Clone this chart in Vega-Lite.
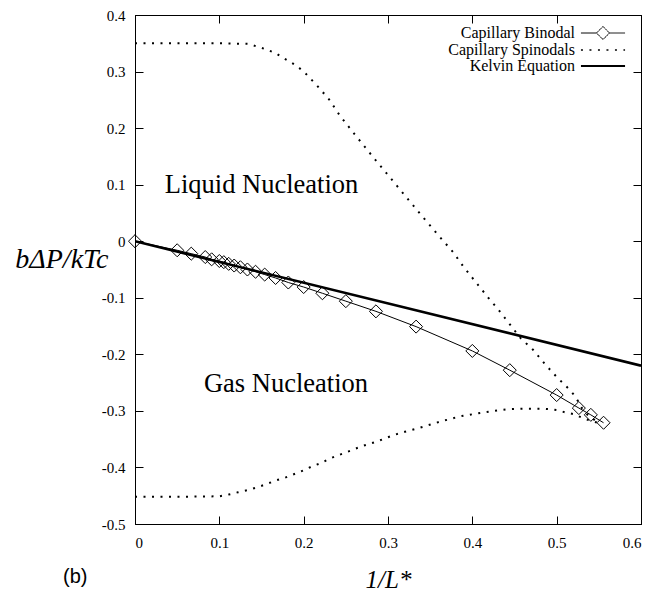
{
  "$schema": "https://vega.github.io/schema/vega-lite/v6.json",
  "width": 506,
  "height": 509,
  "autosize": {"type": "none"},
  "padding": {"left": 135, "top": 15, "right": 26, "bottom": 70},
  "background": "white",
  "title": {"text": "(b)", "orient": "bottom", "anchor": "start", "frame": "group", "font": "Liberation Sans", "fontSize": 20, "fontWeight": "normal", "color": "black", "dx": -72, "offset": -25},
  "config": {
    "view": {"stroke": "black", "strokeWidth": 1}
  },
  "datasets": {
    "curves": [
      {"series": "Capillary Binodal", "branch": "b", "x": 0, "y": 0},
      {"series": "Capillary Binodal", "branch": "b", "x": 0.05, "y": -0.016},
      {"series": "Capillary Binodal", "branch": "b", "x": 0.0667, "y": -0.022},
      {"series": "Capillary Binodal", "branch": "b", "x": 0.0833, "y": -0.028},
      {"series": "Capillary Binodal", "branch": "b", "x": 0.0909, "y": -0.032},
      {"series": "Capillary Binodal", "branch": "b", "x": 0.1, "y": -0.035},
      {"series": "Capillary Binodal", "branch": "b", "x": 0.1053, "y": -0.037},
      {"series": "Capillary Binodal", "branch": "b", "x": 0.1111, "y": -0.04},
      {"series": "Capillary Binodal", "branch": "b", "x": 0.1176, "y": -0.043},
      {"series": "Capillary Binodal", "branch": "b", "x": 0.125, "y": -0.046},
      {"series": "Capillary Binodal", "branch": "b", "x": 0.1333, "y": -0.05},
      {"series": "Capillary Binodal", "branch": "b", "x": 0.1429, "y": -0.054},
      {"series": "Capillary Binodal", "branch": "b", "x": 0.1538, "y": -0.059},
      {"series": "Capillary Binodal", "branch": "b", "x": 0.1667, "y": -0.065},
      {"series": "Capillary Binodal", "branch": "b", "x": 0.1818, "y": -0.073},
      {"series": "Capillary Binodal", "branch": "b", "x": 0.2, "y": -0.081},
      {"series": "Capillary Binodal", "branch": "b", "x": 0.2222, "y": -0.092},
      {"series": "Capillary Binodal", "branch": "b", "x": 0.25, "y": -0.106},
      {"series": "Capillary Binodal", "branch": "b", "x": 0.2857, "y": -0.124},
      {"series": "Capillary Binodal", "branch": "b", "x": 0.3333, "y": -0.151},
      {"series": "Capillary Binodal", "branch": "b", "x": 0.4, "y": -0.194},
      {"series": "Capillary Binodal", "branch": "b", "x": 0.4444, "y": -0.228},
      {"series": "Capillary Binodal", "branch": "b", "x": 0.5, "y": -0.272},
      {"series": "Capillary Binodal", "branch": "b", "x": 0.5263, "y": -0.295},
      {"series": "Capillary Binodal", "branch": "b", "x": 0.5405, "y": -0.307},
      {"series": "Capillary Binodal", "branch": "b", "x": 0.5556, "y": -0.321},
      {"series": "Kelvin Equation", "branch": "k", "x": 0, "y": 0},
      {"series": "Kelvin Equation", "branch": "k", "x": 0.6, "y": -0.22},
      {"series": "Capillary Spinodals", "branch": "up", "x": 0, "y": 0.35},
      {"series": "Capillary Spinodals", "branch": "up", "x": 0.05, "y": 0.35},
      {"series": "Capillary Spinodals", "branch": "up", "x": 0.1, "y": 0.35},
      {"series": "Capillary Spinodals", "branch": "up", "x": 0.134, "y": 0.349},
      {"series": "Capillary Spinodals", "branch": "up", "x": 0.154, "y": 0.34},
      {"series": "Capillary Spinodals", "branch": "up", "x": 0.166, "y": 0.333},
      {"series": "Capillary Spinodals", "branch": "up", "x": 0.176, "y": 0.324},
      {"series": "Capillary Spinodals", "branch": "up", "x": 0.184, "y": 0.317},
      {"series": "Capillary Spinodals", "branch": "up", "x": 0.192, "y": 0.31},
      {"series": "Capillary Spinodals", "branch": "up", "x": 0.202, "y": 0.297},
      {"series": "Capillary Spinodals", "branch": "up", "x": 0.216, "y": 0.275},
      {"series": "Capillary Spinodals", "branch": "up", "x": 0.23, "y": 0.251},
      {"series": "Capillary Spinodals", "branch": "up", "x": 0.243, "y": 0.222},
      {"series": "Capillary Spinodals", "branch": "up", "x": 0.26, "y": 0.19},
      {"series": "Capillary Spinodals", "branch": "up", "x": 0.28, "y": 0.153},
      {"series": "Capillary Spinodals", "branch": "up", "x": 0.3, "y": 0.117},
      {"series": "Capillary Spinodals", "branch": "up", "x": 0.32, "y": 0.081},
      {"series": "Capillary Spinodals", "branch": "up", "x": 0.34, "y": 0.045},
      {"series": "Capillary Spinodals", "branch": "up", "x": 0.36, "y": 0.01},
      {"series": "Capillary Spinodals", "branch": "up", "x": 0.377, "y": -0.019},
      {"series": "Capillary Spinodals", "branch": "up", "x": 0.389, "y": -0.044},
      {"series": "Capillary Spinodals", "branch": "up", "x": 0.406, "y": -0.076},
      {"series": "Capillary Spinodals", "branch": "up", "x": 0.419, "y": -0.1},
      {"series": "Capillary Spinodals", "branch": "up", "x": 0.432, "y": -0.123},
      {"series": "Capillary Spinodals", "branch": "up", "x": 0.445, "y": -0.148},
      {"series": "Capillary Spinodals", "branch": "up", "x": 0.457, "y": -0.171},
      {"series": "Capillary Spinodals", "branch": "up", "x": 0.472, "y": -0.192},
      {"series": "Capillary Spinodals", "branch": "up", "x": 0.486, "y": -0.217},
      {"series": "Capillary Spinodals", "branch": "up", "x": 0.5, "y": -0.24},
      {"series": "Capillary Spinodals", "branch": "up", "x": 0.515, "y": -0.262},
      {"series": "Capillary Spinodals", "branch": "up", "x": 0.522, "y": -0.274},
      {"series": "Capillary Spinodals", "branch": "up", "x": 0.53, "y": -0.295},
      {"series": "Capillary Spinodals", "branch": "up", "x": 0.536, "y": -0.306},
      {"series": "Capillary Spinodals", "branch": "up", "x": 0.549, "y": -0.321},
      {"series": "Capillary Spinodals", "branch": "lo", "x": 0, "y": -0.452},
      {"series": "Capillary Spinodals", "branch": "lo", "x": 0.05, "y": -0.452},
      {"series": "Capillary Spinodals", "branch": "lo", "x": 0.1, "y": -0.451},
      {"series": "Capillary Spinodals", "branch": "lo", "x": 0.111, "y": -0.448},
      {"series": "Capillary Spinodals", "branch": "lo", "x": 0.122, "y": -0.444},
      {"series": "Capillary Spinodals", "branch": "lo", "x": 0.134, "y": -0.44},
      {"series": "Capillary Spinodals", "branch": "lo", "x": 0.145, "y": -0.435},
      {"series": "Capillary Spinodals", "branch": "lo", "x": 0.155, "y": -0.43},
      {"series": "Capillary Spinodals", "branch": "lo", "x": 0.167, "y": -0.423},
      {"series": "Capillary Spinodals", "branch": "lo", "x": 0.178, "y": -0.418},
      {"series": "Capillary Spinodals", "branch": "lo", "x": 0.19, "y": -0.411},
      {"series": "Capillary Spinodals", "branch": "lo", "x": 0.2, "y": -0.405},
      {"series": "Capillary Spinodals", "branch": "lo", "x": 0.21, "y": -0.398},
      {"series": "Capillary Spinodals", "branch": "lo", "x": 0.221, "y": -0.392},
      {"series": "Capillary Spinodals", "branch": "lo", "x": 0.23, "y": -0.385},
      {"series": "Capillary Spinodals", "branch": "lo", "x": 0.24, "y": -0.379},
      {"series": "Capillary Spinodals", "branch": "lo", "x": 0.251, "y": -0.373},
      {"series": "Capillary Spinodals", "branch": "lo", "x": 0.261, "y": -0.367},
      {"series": "Capillary Spinodals", "branch": "lo", "x": 0.27, "y": -0.362},
      {"series": "Capillary Spinodals", "branch": "lo", "x": 0.285, "y": -0.355},
      {"series": "Capillary Spinodals", "branch": "lo", "x": 0.296, "y": -0.349},
      {"series": "Capillary Spinodals", "branch": "lo", "x": 0.306, "y": -0.343},
      {"series": "Capillary Spinodals", "branch": "lo", "x": 0.32, "y": -0.337},
      {"series": "Capillary Spinodals", "branch": "lo", "x": 0.335, "y": -0.331},
      {"series": "Capillary Spinodals", "branch": "lo", "x": 0.344, "y": -0.327},
      {"series": "Capillary Spinodals", "branch": "lo", "x": 0.364, "y": -0.318},
      {"series": "Capillary Spinodals", "branch": "lo", "x": 0.375, "y": -0.314},
      {"series": "Capillary Spinodals", "branch": "lo", "x": 0.384, "y": -0.31},
      {"series": "Capillary Spinodals", "branch": "lo", "x": 0.4, "y": -0.306},
      {"series": "Capillary Spinodals", "branch": "lo", "x": 0.412, "y": -0.303},
      {"series": "Capillary Spinodals", "branch": "lo", "x": 0.431, "y": -0.299},
      {"series": "Capillary Spinodals", "branch": "lo", "x": 0.442, "y": -0.297},
      {"series": "Capillary Spinodals", "branch": "lo", "x": 0.461, "y": -0.296},
      {"series": "Capillary Spinodals", "branch": "lo", "x": 0.481, "y": -0.296},
      {"series": "Capillary Spinodals", "branch": "lo", "x": 0.491, "y": -0.297},
      {"series": "Capillary Spinodals", "branch": "lo", "x": 0.502, "y": -0.299},
      {"series": "Capillary Spinodals", "branch": "lo", "x": 0.511, "y": -0.303},
      {"series": "Capillary Spinodals", "branch": "lo", "x": 0.521, "y": -0.306},
      {"series": "Capillary Spinodals", "branch": "lo", "x": 0.53, "y": -0.312},
      {"series": "Capillary Spinodals", "branch": "lo", "x": 0.541, "y": -0.318},
      {"series": "Capillary Spinodals", "branch": "lo", "x": 0.549, "y": -0.321}
    ],
    "notes": [
      {"label": "Liquid Nucleation", "x": 0.15, "y": 0.1},
      {"label": "Gas Nucleation", "x": 0.179, "y": -0.253}
    ]
  },
  "layer": [
    {
      "data": {"name": "curves"},
      "transform": [{"filter": "datum.series == 'Capillary Binodal'"}],
      "mark": {"type": "line", "color": "black", "strokeWidth": 1, "clip": true},
      "encoding": {
        "x": {"field": "x", "type": "quantitative", "scale": {"domain": [0, 0.6], "nice": false, "zero": false},
          "axis": {"orient": "bottom", "values": [0, 0.1, 0.2, 0.3, 0.4, 0.5, 0.6], "grid": false, "domainColor": "black", "tickColor": "black", "tickSize": -8, "labelColor": "black", "labelFont": "Liberation Serif", "labelFontSize": 15, "labelPadding": 19, "labelExpr": "replace(format(datum.value, '~g'), '−', '-')", "title": "1/L*", "titleColor": "black", "titleFont": "Liberation Serif", "titleFontSize": 25, "titleFontStyle": "italic", "titleFontWeight": "normal", "titleX": 253, "titleY": 63, "titleBaseline": "alphabetic", "titleAlign": "center"}},
        "y": {"field": "y", "type": "quantitative", "scale": {"domain": [-0.5, 0.4], "nice": false, "zero": false},
          "axis": {"orient": "left", "values": [-0.5, -0.4, -0.3, -0.2, -0.1, 0, 0.1, 0.2, 0.3, 0.4], "grid": false, "domainColor": "black", "tickColor": "black", "tickSize": -8, "labelColor": "black", "labelFont": "Liberation Serif", "labelFontSize": 15, "labelPadding": 18, "labelExpr": "replace(format(datum.value, '~g'), '−', '-')", "title": "bΔP/kTc", "titleColor": "black", "titleFont": "Liberation Serif", "titleFontSize": 28, "titleFontStyle": "italic", "titleFontWeight": "normal", "titleAngle": 0, "titleAlign": "right", "titleBaseline": "alphabetic", "titleX": -27, "titleY": 252}}
      }
    },
    {
      "data": {"name": "curves"},
      "transform": [{"filter": "datum.series == 'Capillary Spinodals'"}],
      "mark": {"type": "line", "color": "black", "strokeWidth": 2, "strokeDash": [2, 6.5], "clip": true},
      "encoding": {
        "x": {"field": "x", "type": "quantitative", "axis": null},
        "y": {"field": "y", "type": "quantitative", "axis": null},
        "detail": {"field": "branch"}
      }
    },
    {
      "data": {"name": "curves"},
      "transform": [{"filter": "datum.series == 'Kelvin Equation'"}],
      "mark": {"type": "line", "color": "black", "strokeWidth": 2.6, "clip": true},
      "encoding": {
        "x": {"field": "x", "type": "quantitative", "axis": null},
        "y": {"field": "y", "type": "quantitative", "axis": null}
      }
    },
    {
      "data": {"name": "curves"},
      "transform": [{"filter": "datum.series == 'Capillary Binodal'"}],
      "mark": {"type": "point", "shape": "diamond", "filled": false, "size": 170, "stroke": "black", "strokeWidth": 1, "opacity": 1},
      "encoding": {
        "x": {"field": "x", "type": "quantitative", "axis": null},
        "y": {"field": "y", "type": "quantitative", "axis": null}
      }
    },
    {
      "data": {"name": "curves"},
      "mark": {"type": "point", "opacity": 0, "filled": false, "stroke": "black"},
      "encoding": {
        "x": {"field": "x", "type": "quantitative", "axis": {"orient": "top", "values": [0, 0.1, 0.2, 0.3, 0.4, 0.5, 0.6], "labels": false, "title": null, "grid": false, "domainColor": "black", "tickColor": "black", "tickSize": -8}},
        "y": {"field": "y", "type": "quantitative", "axis": {"orient": "right", "values": [-0.5, -0.4, -0.3, -0.2, -0.1, 0, 0.1, 0.2, 0.3, 0.4], "labels": false, "title": null, "grid": false, "domainColor": "black", "tickColor": "black", "tickSize": -8}},
        "shape": {"field": "series", "type": "nominal",
          "scale": {"domain": ["Capillary Binodal", "Capillary Spinodals", "Kelvin Equation"], "range": ["M-3.15,0L-0.93,0L0,-0.93L0.93,0L0,0.93L-0.93,0M0.93,0L3.15,0", "M-3.15,0L3.15,0", "M-3.15,0L3.15,0"]},
          "legend": {"orient": "none", "legendX": 460, "legendY": 10, "title": null, "symbolSize": 196, "symbolOpacity": 1, "symbolStrokeColor": "black", "symbolFillColor": "transparent", "labelAlign": "right", "labelOffset": -36, "labelFont": "Liberation Serif", "labelFontSize": 16, "labelColor": "black", "rowPadding": 0, "padding": 0}},
        "strokeDash": {"field": "series", "type": "nominal",
          "scale": {"domain": ["Capillary Binodal", "Capillary Spinodals", "Kelvin Equation"], "range": [[1, 0], [2, 6.5], [1, 0]]}},
        "strokeWidth": {"field": "series", "type": "ordinal",
          "scale": {"domain": ["Capillary Binodal", "Capillary Spinodals", "Kelvin Equation"], "range": [1, 2, 2.6]}}
      }
    },
    {
      "data": {"name": "notes"},
      "mark": {"type": "text", "font": "Liberation Serif", "fontSize": 26.5, "color": "black", "align": "center", "baseline": "middle"},
      "encoding": {
        "x": {"field": "x", "type": "quantitative", "axis": null},
        "y": {"field": "y", "type": "quantitative", "axis": null},
        "text": {"field": "label"}
      }
    }
  ],
  "resolve": {"axis": {"x": "independent", "y": "independent"}}
}
